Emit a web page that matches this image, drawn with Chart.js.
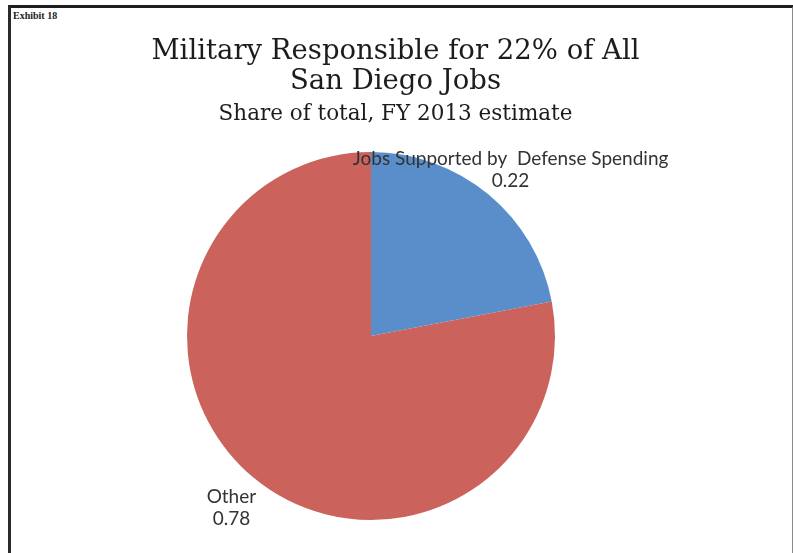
<!DOCTYPE html>
<html>
<head>
<meta charset="utf-8">
<script src="https://cdn.jsdelivr.net/npm/chart.js@4/dist/chart.umd.min.js"></script>
<style>
    html, body { margin: 0; padding: 0; background: #fff; }
    #wrap { position: relative; width: 793px; height: 553px; overflow: hidden; }
    #frame {
        position: absolute; left: 8px; top: 5px; width: 781px; height: 560px;
        border-top: 3px solid #1e1e1e; border-left: 3px solid #2a2a2a; border-right: 2px solid #8a8a8a;
    }
    #exhibit {
        position: absolute; left: 13px; top: 10px;
        font: bold 10px "Liberation Sans Narrow", "Liberation Serif", serif; color: #222;
    }
    canvas { position: absolute; left: 0; top: 0; }
</style>
</head>
<body>
<div id="wrap">
    <div id="frame"></div>
    <div id="exhibit">Exhibit 18</div>
    <canvas id="pie" width="793" height="553"></canvas>
</div>
<script>
// data
var sliceLabels = ['Jobs Supported by  Defense Spending', 'Other'];
var sliceValues = [0.22, 0.78];
var sliceColors = ['#5a8ecb', '#cb625b'];

var titleLines = ['Military Responsible for 22% of All', 'San Diego Jobs'];
var subTitle = 'Share of total, FY 2013 estimate';

// titles drawn centred on the page, not on the pie
var titlePlugin = {
    id: 'pageTitle',
    afterDraw: function (chart) {
        var c = chart.ctx;
        var cx = chart.width / 2 - 1;
        c.save();
        c.fillStyle = '#1c1c1c';
        c.textAlign = 'center';
        c.textBaseline = 'alphabetic';
        c.font = '27.5px "DejaVu Serif", serif';
        c.fillText(titleLines[0], cx, 59);
        c.fillText(titleLines[1], cx, 89);
        c.font = '21.5px "DejaVu Serif", serif';
        c.fillText(subTitle, cx, 120);
        c.restore();
    }
};

// excel style outside-end labels: name and value, two lines
var sliceLabelPlugin = {
    id: 'sliceLabels',
    afterDatasetsDraw: function (chart) {
        var c = chart.ctx;
        var meta = chart.getDatasetMeta(0);
        c.save();
        c.fillStyle = '#333';
        c.textAlign = 'center';
        c.textBaseline = 'middle';
        c.font = '19px Lato, sans-serif';
        meta.data.forEach(function (arc, i) {
            var p = arc.getProps(['x', 'y', 'startAngle', 'endAngle', 'outerRadius'], true);
            var mid = (p.startAngle + p.endAngle) / 2;
            var r = p.outerRadius + 35;
            var x = p.x + Math.cos(mid) * r;
            var y = p.y + Math.sin(mid) * r;
            c.fillText(sliceLabels[i], x, y - 8);
            c.fillText(sliceValues[i].toFixed(2), x, y + 14);
        });
        c.restore();
    }
};

var ctx = document.getElementById('pie');

new Chart(ctx, {
    type: 'pie',
    data: {
        labels: sliceLabels,
        datasets: [{
            data: sliceValues,
            backgroundColor: sliceColors,
            borderWidth: 0
        }]
    },
    options: {
        responsive: false,
        animation: false,
        devicePixelRatio: 1,
        layout: {
            padding: { left: 187, right: 238, top: 152, bottom: 33 }
        },
        plugins: {
            legend: { display: false },
            title: { display: false },
            tooltip: { enabled: false }
        }
    },
    plugins: [titlePlugin, sliceLabelPlugin]
});
</script>
</body>
</html>
